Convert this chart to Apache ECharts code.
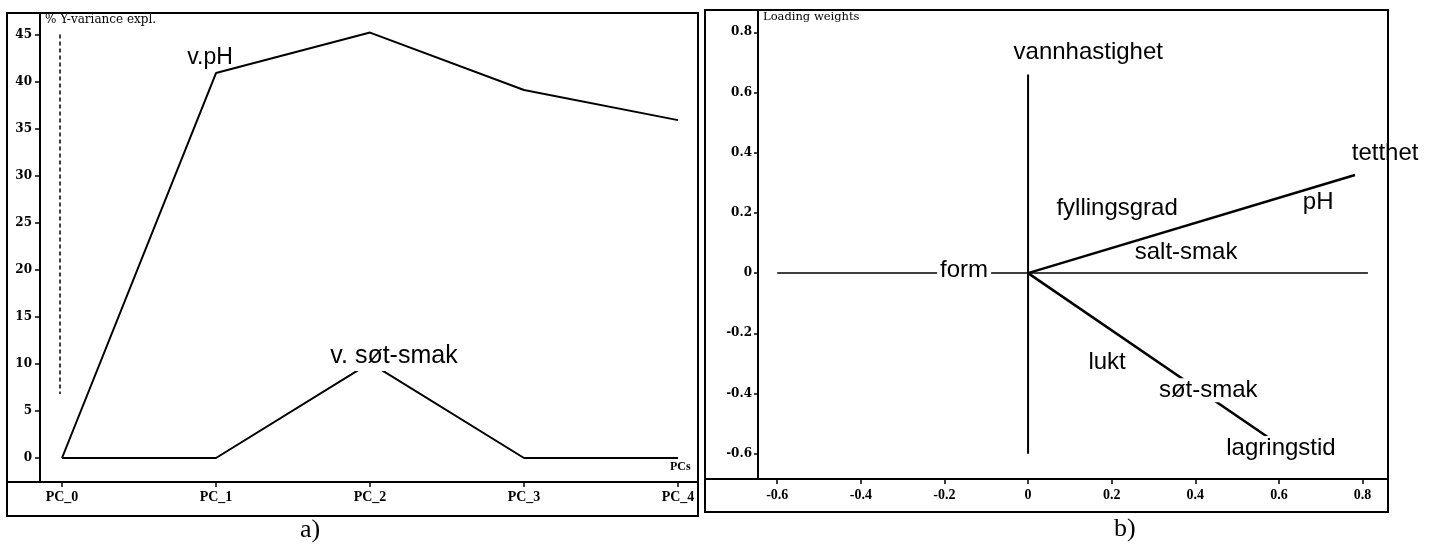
<!DOCTYPE html>
<html>
<head>
<meta charset="utf-8">
<script src="https://cdn.jsdelivr.net/npm/echarts@6/dist/echarts.min.js"></script>
<style>
  html, body { margin: 0; padding: 0; background: #fff; }
  #c { width: 1443px; height: 549px; }
</style>
</head>
<body>
<div id="c"></div>
<script>
// ---- a) explained Y-variance per component ----
const pcLabels = ['PC_0', 'PC_1', 'PC_2', 'PC_3', 'PC_4'];
const varPH = [0, 40.9, 45.2, 39.1, 35.9];
const varSweet = [0, 0, 10.1, 0, 0];
const leftYTicks = [0, 5, 10, 15, 20, 25, 30, 35, 40, 45];
const guideY = [45, 6.8];           // dashed guide at PC_0
const pHLabelAt = 1;
const sweetLabelAt = 2;

// ---- b) loading weights ----
const loadNames = ['vannhastighet', 'tetthet', 'pH', 'fyllingsgrad', 'salt-smak', 'form', 'lukt', 'søt-smak', 'lagringstid'];
const loadX = [0.144, 0.854, 0.694, 0.213, 0.378, -0.153, 0.189, 0.431, 0.605];
const loadY = [0.734, 0.399, 0.236, 0.216, 0.070, 0.010, -0.296, -0.389, -0.581];
const rightTicks = [-0.6, -0.4, -0.2, 0, 0.2, 0.4, 0.6, 0.8];
const zeroLineX = [-0.6, 0.813];
const zeroLineY = [-0.6, 0.66];
const tetthetEnd = [0.782, 0.326];
const lagringEnd = [0.574, -0.545];

const INK = '#000';
const xTickFont = { fontFamily: 'Liberation Serif', fontWeight: 'bold', fontSize: 14, color: INK };
const yTickFont = { fontFamily: 'DejaVu Serif', fontWeight: 'bold', fontSize: 12, color: INK };
const sansLabel = { fontFamily: 'Liberation Sans', fontSize: 24, color: INK, textBorderWidth: 0 };
const fmtDec = v => (Math.abs(v) < 1e-9 ? '0' : String(+v.toFixed(1)));

const chart = echarts.init(document.getElementById('c'), null, { renderer: 'canvas' });

// label anchors for the two curves of panel a)
const curveLabels = [
  { name: 'v.pH', value: [pHLabelAt, varPH[pHLabelAt]],
    label: { offset: [-6, -15], fontSize: 23 } },
  { name: 'v. søt-smak', value: [sweetLabelAt, varSweet[sweetLabelAt]],
    label: { offset: [24, -7], fontSize: 25, backgroundColor: '#fff', padding: [0, 3, 5, 3] } }
];

const loadData = loadNames.map((n, i) => {
  const item = { name: n, value: [loadX[i], loadY[i]] };
  if (n === 'form' || n === 'søt-smak' || n === 'lagringstid') {
    item.label = { backgroundColor: '#fff', padding: [0, 3, 0, 3] };
  }
  return item;
});

const textLabel = {
  show: true, position: [0, 0], align: 'center', verticalAlign: 'middle',
  formatter: p => p.name, ...sansLabel
};

const option = {
  backgroundColor: '#fff',
  animation: false,
  title: [
    { text: '% Y-variance expl.', left: 45, top: 14, padding: 0,
      textStyle: { fontFamily: 'DejaVu Serif', fontSize: 12, fontWeight: 'normal', color: INK } },
    { text: 'Loading weights', left: 763, top: 11, padding: 0,
      textStyle: { fontFamily: 'DejaVu Serif', fontSize: 11.5, fontWeight: 'normal', color: INK } },
    { text: 'PCs', left: 670, top: 461, padding: 0,
      textStyle: { fontFamily: 'Liberation Serif', fontSize: 12, fontWeight: 'bold', color: INK } },
    { text: 'a)', left: 300, top: 517, padding: 0,
      textStyle: { fontFamily: 'Liberation Serif', fontSize: 26, fontWeight: 'normal', color: INK } },
    { text: 'b)', left: 1114, top: 516, padding: 0,
      textStyle: { fontFamily: 'Liberation Serif', fontSize: 26, fontWeight: 'normal', color: INK } }
  ],
  graphic: [
    { type: 'rect', shape: { x: 7, y: 13, width: 691, height: 503 }, style: { fill: 'none', stroke: INK, lineWidth: 2 }, silent: true },
    { type: 'line', shape: { x1: 7, y1: 482, x2: 698, y2: 482 }, style: { stroke: INK, lineWidth: 2 }, silent: true },
    { type: 'rect', shape: { x: 705, y: 10, width: 683, height: 502 }, style: { fill: 'none', stroke: INK, lineWidth: 2 }, silent: true },
    { type: 'line', shape: { x1: 705, y1: 479, x2: 1388, y2: 479 }, style: { stroke: INK, lineWidth: 2 }, silent: true }
  ],
  grid: [
    { left: 40, top: 13, width: 658, height: 469 },
    { left: 758, top: 10, width: 630, height: 469 }
  ],
  xAxis: [
    {
      gridIndex: 0, type: 'value', min: -0.143, max: 4.13,
      axisLine: { show: true, onZero: false, lineStyle: { color: INK, width: 2 } },
      axisTick: { show: true, length: 5, customValues: pcLabels.map((_, i) => i), lineStyle: { color: INK, width: 1.5 } },
      axisLabel: { show: true, margin: 8, customValues: pcLabels.map((_, i) => i), formatter: v => pcLabels[Math.round(v)], ...xTickFont },
      splitLine: { show: false }
    },
    {
      gridIndex: 1, type: 'value', min: -0.646, max: 0.861,
      axisLine: { show: true, onZero: false, lineStyle: { color: INK, width: 2 } },
      axisTick: { show: true, length: 5, customValues: rightTicks, lineStyle: { color: INK, width: 1.5 } },
      axisLabel: { show: true, margin: 9, customValues: rightTicks, formatter: fmtDec, ...xTickFont },
      splitLine: { show: false }
    }
  ],
  yAxis: [
    {
      gridIndex: 0, type: 'value', min: -2.55, max: 47.28,
      axisLine: { show: true, onZero: false, lineStyle: { color: INK, width: 2 } },
      axisTick: { show: true, length: 5, customValues: leftYTicks, lineStyle: { color: INK, width: 1.5 } },
      axisLabel: { show: true, margin: 8, customValues: leftYTicks, ...yTickFont },
      splitLine: { show: false }
    },
    {
      gridIndex: 1, type: 'value', min: -0.684, max: 0.874,
      axisLine: { show: true, onZero: false, lineStyle: { color: INK, width: 2 } },
      axisTick: { show: true, length: 4, customValues: rightTicks, lineStyle: { color: INK, width: 1.5 } },
      axisLabel: { show: true, margin: 6, customValues: rightTicks, formatter: fmtDec, ...yTickFont },
      splitLine: { show: false }
    }
  ],
  series: [
    {
      name: 'guide', type: 'line', xAxisIndex: 0, yAxisIndex: 0, symbol: 'none', silent: true,
      data: guideY.map(v => [-0.013, v]),
      lineStyle: { color: INK, width: 1.5, type: [4, 3] }
    },
    {
      name: 'v.pH', type: 'line', xAxisIndex: 0, yAxisIndex: 0, symbol: 'none',
      data: varPH.map((v, i) => [i, v]), lineStyle: { color: INK, width: 2 }
    },
    {
      name: 'v. søt-smak', type: 'line', xAxisIndex: 0, yAxisIndex: 0, symbol: 'none',
      data: varSweet.map((v, i) => [i, v]), lineStyle: { color: INK, width: 2 }
    },
    {
      name: 'curve labels', type: 'scatter', xAxisIndex: 0, yAxisIndex: 0, symbolSize: 0, z: 5,
      itemStyle: { opacity: 1 },
      data: curveLabels, label: textLabel
    },
    {
      name: 'zero-x', type: 'line', xAxisIndex: 1, yAxisIndex: 1, symbol: 'none', silent: true,
      data: zeroLineX.map(x => [x, 0]), lineStyle: { color: INK, width: 1.5 }
    },
    {
      name: 'zero-y', type: 'line', xAxisIndex: 1, yAxisIndex: 1, symbol: 'none', silent: true,
      data: zeroLineY.map(y => [0, y]), lineStyle: { color: INK, width: 2 }
    },
    {
      name: 'tetthet', type: 'line', xAxisIndex: 1, yAxisIndex: 1, symbol: 'none',
      data: [[0, 0], tetthetEnd], lineStyle: { color: INK, width: 2.5 }
    },
    {
      name: 'lagringstid', type: 'line', xAxisIndex: 1, yAxisIndex: 1, symbol: 'none',
      data: [[0, 0], lagringEnd], lineStyle: { color: INK, width: 2.5 }
    },
    {
      name: 'variables', type: 'scatter', xAxisIndex: 1, yAxisIndex: 1, symbolSize: 0, z: 5,
      itemStyle: { opacity: 1 },
      data: loadData, label: textLabel
    }
  ]
};

chart.setOption(option);
</script>
</body>
</html>
